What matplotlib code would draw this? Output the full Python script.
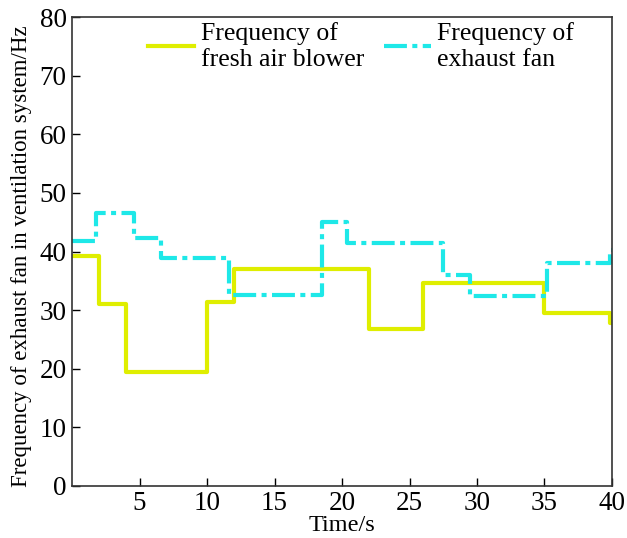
import matplotlib.pyplot as plt

plt.rcParams['font.family'] = ['Liberation Serif', 'DejaVu Serif']

# step edges (s) and levels (Hz)
blower_t = [0, 2, 4, 10, 12, 22, 26, 35, 39.85, 40]
blower_f = [39.2, 31.0, 19.5, 31.3, 37.0, 26.8, 34.6, 29.5, 27.8, 27.8]

exhaust_t = [0, 1.8, 4.6, 6.6, 11.6, 18.5, 20.4, 27.5, 29.5, 35.2, 39.85, 40]
exhaust_f = [41.8, 46.6, 42.3, 38.9, 32.6, 45.1, 41.5, 36.0, 32.4, 38.1, 40.3, 40.3]

fig = plt.figure(figsize=(6.27, 5.38), dpi=100)
ax = fig.add_axes([0.115, 0.097, 0.861, 0.871])

ax.step(blower_t, blower_f, where='post', color='#dfee00', lw=3,
        label='Frequency of\nfresh air blower')
ax.step(exhaust_t, exhaust_f, where='post', color='#1ee8e8', lw=3,
        dashes=(5.5, 1.3, 1.2, 1.3), label='Frequency of\nexhaust fan')

ax.set_xlim(0, 40)
ax.set_ylim(0, 80)
ax.set_xticks([5, 10, 15, 20, 25, 30, 35, 40])
ax.set_yticks(range(0, 81, 10))
ax.tick_params(direction='in', labelsize=19.5, length=6, width=1, pad=4)
for s in ax.spines.values():
    s.set_color('#333333')
    s.set_linewidth(1.2)

ax.set_xlabel('Time/s', fontsize=17.5, labelpad=-1)
ax.set_ylabel('Frequency of exhaust fan in ventilation system/Hz', fontsize=16.5, labelpad=4)
ax.yaxis.set_label_coords(-0.075, 0.49)

ax.legend(loc='upper center', ncol=2, frameon=False, fontsize=18.5,
          handlelength=1.8, columnspacing=0.8, borderaxespad=0.0,
          handletextpad=0.25, labelspacing=0.2, borderpad=0.1,
          bbox_to_anchor=(0.535, 0.995))

fig.savefig('out.png', dpi=100)
